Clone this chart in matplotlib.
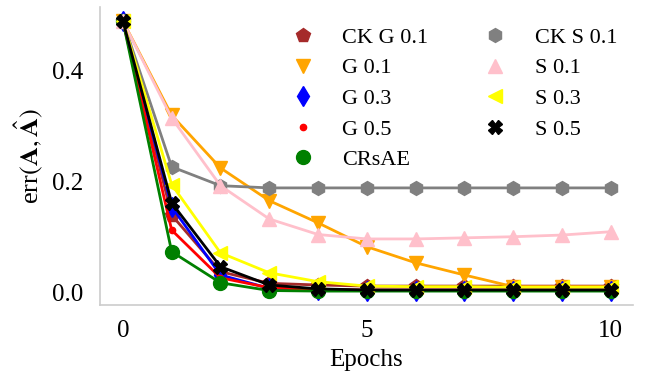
import matplotlib.pyplot as plt
from matplotlib.lines import Line2D
import numpy as np

# data
epochs = np.arange(11)
labels = ['CK G 0.1', 'G 0.1', 'G 0.3', 'G 0.5', 'CRsAE',
          'CK S 0.1', 'S 0.1', 'S 0.3', 'S 0.5']
ck_g_01 = [0.49, 0.140, 0.038, 0.017, 0.014, 0.012, 0.012, 0.012, 0.012, 0.012, 0.012]
g_01 = [0.49, 0.320, 0.225, 0.166, 0.126, 0.083, 0.054, 0.032, 0.011, 0.011, 0.011]
g_03 = [0.49, 0.155, 0.032, 0.008, 0.005, 0.004, 0.004, 0.004, 0.004, 0.004, 0.004]
g_05 = [0.49, 0.113, 0.027, 0.009, 0.006, 0.005, 0.005, 0.005, 0.005, 0.005, 0.005]
crsae = [0.49, 0.074, 0.018, 0.004, 0.003, 0.003, 0.003, 0.003, 0.003, 0.003, 0.003]
ck_s_01 = [0.49, 0.227, 0.193, 0.189, 0.189, 0.189, 0.189, 0.189, 0.189, 0.189, 0.189]
s_01 = [0.49, 0.315, 0.193, 0.133, 0.105, 0.097, 0.097, 0.099, 0.101, 0.104, 0.110]
s_03 = [0.49, 0.195, 0.072, 0.036, 0.020, 0.012, 0.011, 0.011, 0.010, 0.010, 0.010]
s_05 = [0.49, 0.162, 0.047, 0.014, 0.007, 0.005, 0.005, 0.005, 0.005, 0.005, 0.005]
series = [ck_g_01, g_01, g_03, g_05, crsae, ck_s_01, s_01, s_03, s_05]

colors = ['#a52a2a', '#ffa500', 'blue', 'red', 'green',
          'grey', 'pink', 'yellow', 'black']
markers = ['p', 'v', 'd', '.', 'o', 'h', '^', '<', 'X']
msizes = [10, 10, 10, 9, 10, 10, 10, 10, 10]

plt.rcParams['font.family'] = ['Liberation Serif', 'DejaVu Serif']
plt.rcParams['mathtext.fontset'] = 'stix'

fig = plt.figure(figsize=(6.49, 3.71), dpi=100)
ax = fig.add_axes([0.154, 0.178, 0.821, 0.803])

for ys, c, m, ms in zip(series, colors, markers, msizes):
    ax.plot(epochs, ys, color=c, marker=m, markersize=ms, linewidth=2)

handles = [Line2D([], [], color=c, marker=m, markersize=ms, linestyle='none')
           for c, m, ms in zip(colors, markers, msizes)]
ax.legend(handles, labels, ncol=2, frameon=False, fontsize=16,
          loc='upper left', bbox_to_anchor=(0.302, 0.999),
          handletextpad=0.77, columnspacing=2.0, labelspacing=0.45)

ax.set_xlim(-0.47, 10.45)
ax.set_ylim(-0.022, 0.515)
ax.set_xticks([0, 5, 10])
ax.set_yticks([0.0, 0.2, 0.4])
ax.tick_params(length=0, labelsize=18)
ax.tick_params(axis='x', pad=11)
ax.tick_params(axis='y', pad=12)
ax.set_xlabel('Epochs', fontsize=18, labelpad=5)
ax.set_ylabel(r'err$(\mathbf{A},\hat{\mathbf{A}})$', fontsize=19, labelpad=4)

for s in ['top', 'right']:
    ax.spines[s].set_visible(False)
for s in ['left', 'bottom']:
    ax.spines[s].set_color('#cccccc')
    ax.spines[s].set_linewidth(1.2)

fig.savefig('out.png', dpi=100)
